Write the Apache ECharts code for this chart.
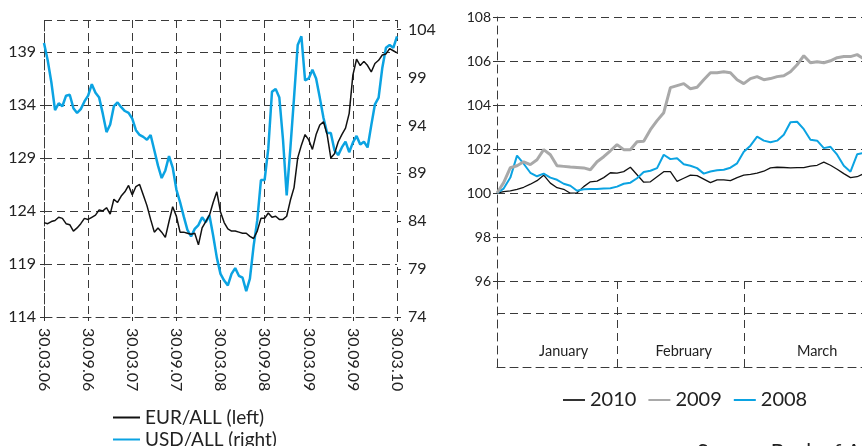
<!DOCTYPE html>
<html>
<head>
<meta charset="utf-8">
<script src="https://cdn.jsdelivr.net/npm/echarts@6/dist/echarts.min.js"></script>
<style>
  html, body { margin: 0; padding: 0; background: #fff; }
  #chart { width: 862px; height: 446px; }
</style>
</head>
<body>
<div id="chart"></div>
<script>
// ---- Left panel: exchange rates, half-monthly readings 30.03.06 – 30.03.10 ----
const rateTickLabels = ['30.03.06', '30.09.06', '30.03.07', '30.09.07', '30.03.08',
  '30.09.08', '30.03.09', '30.09.09', '30.03.10'];

const eurAll = [
  122.9, 122.8, 123.0, 123.1, 123.4, 123.3, 122.8, 122.7, 122.1, 122.4,
  122.8, 123.3, 123.2, 123.4, 123.6, 124.1, 124.0, 124.3, 123.7, 125.1,
  124.8, 125.4, 125.8, 126.4, 125.5, 126.3, 126.5, 125.5, 124.5, 123.2,
  122.0, 122.4, 122.0, 121.5, 123.0, 124.4, 123.5, 122.0, 122.0, 121.9,
  121.8, 121.9, 120.8, 122.4, 123.0, 123.6, 124.8, 125.8, 123.9, 122.9,
  122.3, 122.1, 122.1, 122.0, 121.9, 121.9, 121.6, 121.4, 122.1, 123.3,
  123.3, 123.8, 123.4, 123.5, 123.2, 123.2, 123.5, 125.0, 126.2, 129.0,
  130.2, 131.2, 130.7, 129.8, 131.2, 132.1, 132.4, 131.2, 129.0, 129.4,
  130.5, 131.2, 131.8, 133.2, 136.8, 138.3, 137.7, 138.1, 137.7, 137.1,
  137.9, 138.2, 138.7, 138.8, 139.3, 139.1, 138.9
];

const usdAll = [
  102.6, 100.8, 98.5, 95.6, 96.3, 96.0, 97.1, 97.2, 95.8, 95.3,
  95.7, 96.5, 97.1, 98.3, 97.4, 96.9, 95.2, 93.3, 94.1, 96.0,
  96.4, 95.9, 95.5, 95.3, 94.7, 93.5, 93.0, 92.8, 92.5, 93.0,
  91.4, 89.8, 88.5, 89.3, 90.8, 89.6, 87.3, 86.0, 84.5, 83.1,
  82.4, 83.2, 83.6, 84.4, 83.9, 84.6, 82.5, 80.2, 78.5, 77.8,
  77.3, 78.5, 79.1, 78.3, 78.1, 76.7, 78.0, 81.4, 84.1, 88.3,
  88.3, 91.6, 97.5, 97.8, 96.9, 92.5, 86.7, 91.6, 96.9, 102.4,
  103.3, 98.7, 98.9, 99.8, 98.9, 96.9, 94.8, 93.2, 93.2, 91.4,
  90.9, 91.7, 92.3, 91.2, 92.2, 92.9, 92.0, 92.3, 91.7, 94.0,
  96.2, 96.9, 100.0, 102.1, 102.4, 102.1, 103.3
];

// ---- Right panel: EUR/ALL index (first trading day of the year = 100), January – March ----
const months = ['January', 'February', 'March'];
const monthStartDay = [0, 18, 37, 59];
const monthLabelDay = [10, 28, 48];

const idx2010 = [
  100.00, 100.06, 100.10, 100.17, 100.26, 100.40, 100.56, 100.81, 100.45, 100.24,
  100.17, 99.99, 100.01, 100.29, 100.51, 100.54, 100.70, 100.92, 100.90, 100.97,
  101.17, 100.83, 100.49, 100.51, 100.74, 100.97, 100.97, 100.53, 100.67, 100.81,
  100.79, 100.63, 100.47, 100.60, 100.60, 100.56, 100.70, 100.81, 100.85, 100.90,
  100.99, 101.14, 101.17, 101.16, 101.14, 101.15, 101.15, 101.22, 101.26, 101.40,
  101.26, 101.08, 100.88, 100.70, 100.74, 100.88
];
const idx2009 = [
  100.00, 100.47, 101.15, 101.24, 101.42, 101.29, 101.51, 101.97, 101.74, 101.24,
  101.21, 101.18, 101.16, 101.14, 101.06, 101.42, 101.65, 101.92, 102.20, 101.97,
  101.97, 102.33, 102.35, 102.88, 103.29, 103.65, 104.79, 104.88, 104.97, 104.74,
  104.81, 105.15, 105.47, 105.47, 105.51, 105.47, 105.15, 104.97, 105.20, 105.29,
  105.15, 105.20, 105.29, 105.33, 105.51, 105.83, 106.24, 105.92, 105.97, 105.92,
  106.01, 106.15, 106.20, 106.20, 106.29, 106.10
];
const idx2008 = [
  100.00, 100.20, 100.70, 101.70, 101.33, 100.92, 100.76, 100.88, 100.70, 100.60,
  100.42, 100.33, 100.10, 100.17, 100.18, 100.18, 100.20, 100.22, 100.29, 100.42,
  100.47, 100.67, 100.95, 101.01, 101.13, 101.74, 101.54, 101.58, 101.31, 101.24,
  101.13, 100.88, 100.98, 101.03, 101.06, 101.15, 101.35, 101.88, 102.15, 102.56,
  102.38, 102.31, 102.38, 102.65, 103.22, 103.24, 102.90, 102.42, 102.38, 102.04,
  102.10, 101.74, 101.24, 100.97, 101.76, 101.83
];

// ---- styling ----
const FONT = 'Lato';
const INK = '#222';
const GRID_LINE = { color: '#3a3a3a', width: 1, type: [8, 5] };
const BLUE = '#0ba3e2';
const GREY = '#a9a9a9';
const BLACK = '#111';

const RATE_STEP_MONTHS = 0.5;   // left panel sampling (months)
const DAY_STEP = 1;             // right panel sampling (trading days)
const pairs = (arr, step) => arr.map((v, i) => [i * step, v]);

const chart = echarts.init(document.getElementById('chart'), null, { renderer: 'canvas' });

chart.setOption({
  animation: false,
  backgroundColor: '#fff',
  textStyle: { fontFamily: FONT, color: INK },
  title: {
    text: 'Source: Bank of Albania',
    left: 697, top: 442, padding: 0,
    textStyle: { fontFamily: FONT, fontSize: 21, fontWeight: 'normal', color: INK }
  },
  legend: [
    {
      orient: 'vertical',
      left: 113, top: 408, height: 80, padding: 0,
      itemWidth: 27, itemHeight: 2, itemGap: 3,
      icon: 'rect',
      textStyle: { fontSize: 19, color: INK, lineHeight: 18 },
      data: ['EUR/ALL (left)', 'USD/ALL (right)']
    },
    {
      orient: 'horizontal',
      left: 563, top: 390, padding: 0,
      itemWidth: 22, itemHeight: 2, itemGap: 12,
      icon: 'rect',
      textStyle: { fontSize: 20, color: INK },
      data: ['2010', '2009', '2008']
    }
  ],
  grid: [
    { left: 44, top: 20, width: 353, height: 297, outerBoundsMode: 'none' },
    { left: 497, top: 17, width: 393.5, height: 264, outerBoundsMode: 'none' },
    { left: 497, top: 281, width: 393.5, height: 86, outerBoundsMode: 'none' }
  ],
  xAxis: [
    {
      gridIndex: 0, type: 'value', min: 0, max: 48, interval: 6,
      axisLine: { show: true, lineStyle: GRID_LINE },
      axisTick: { show: true, length: 4, lineStyle: { color: '#333' } },
      splitLine: { show: true, lineStyle: GRID_LINE },
      axisLabel: {
        rotate: -90, margin: 11, fontSize: 16, color: INK, fontFamily: FONT,
        formatter: v => rateTickLabels[Math.round(v / 6)]
      }
    },
    {
      gridIndex: 1, type: 'value', min: 0, max: 59, show: false
    },
    {
      gridIndex: 2, type: 'category', boundaryGap: false,
      data: Array.from({ length: 60 }, (_, i) => String(i)),
      axisLine: { show: true, lineStyle: GRID_LINE },
      axisTick: { show: false },
      splitLine: { show: true, lineStyle: GRID_LINE, interval: i => monthStartDay.includes(i) },
      axisLabel: {
        inside: true, margin: 8, fontSize: 14.5, color: INK, fontFamily: FONT,
        interval: i => monthLabelDay.includes(i),
        formatter: (v, i) => months[monthLabelDay.indexOf(i)]
      }
    }
  ],
  yAxis: [
    {
      gridIndex: 0, type: 'value', min: 114, max: 142, interval: 5,
      axisLine: { show: true, lineStyle: GRID_LINE },
      axisTick: { show: true, length: 4, lineStyle: { color: '#333' } },
      splitLine: { show: true, lineStyle: GRID_LINE },
      axisLabel: { margin: 8, fontSize: 16, color: INK, fontFamily: FONT, showMaxLabel: false }
    },
    {
      gridIndex: 0, type: 'value', position: 'right', min: 74, max: 105, interval: 5,
      axisLine: { show: false },
      axisTick: { show: true, length: 4, lineStyle: { color: '#333' } },
      splitLine: { show: false },
      axisLabel: { margin: 11, fontSize: 16, color: INK, fontFamily: FONT, showMaxLabel: false }
    },
    {
      gridIndex: 1, type: 'value', min: 96, max: 108, interval: 2,
      axisLine: { show: true, lineStyle: GRID_LINE },
      axisTick: { show: true, length: 4, lineStyle: { color: '#333' } },
      splitLine: { show: true, lineStyle: GRID_LINE },
      axisLabel: { margin: 6, fontSize: 14, color: INK, fontFamily: FONT }
    },
    {
      gridIndex: 2, type: 'value', min: 0, max: 86, interval: 54,
      axisLine: { show: true, lineStyle: GRID_LINE },
      axisTick: { show: false },
      axisLabel: { show: false },
      splitLine: { show: true, lineStyle: GRID_LINE }
    }
  ],
  series: [
    {
      name: 'USD/ALL (right)', type: 'line', xAxisIndex: 0, yAxisIndex: 1,
      data: pairs(usdAll, RATE_STEP_MONTHS), showSymbol: false,
      lineStyle: { color: BLUE, width: 2.5 }, itemStyle: { color: BLUE }
    },
    {
      name: 'EUR/ALL (left)', type: 'line', xAxisIndex: 0, yAxisIndex: 0,
      data: pairs(eurAll, RATE_STEP_MONTHS), showSymbol: false,
      lineStyle: { color: BLACK, width: 1.5 }, itemStyle: { color: BLACK }
    },
    {
      name: '2010', type: 'line', xAxisIndex: 1, yAxisIndex: 2,
      data: pairs(idx2010, DAY_STEP), showSymbol: false,
      lineStyle: { color: BLACK, width: 1.3 }, itemStyle: { color: '#333' }
    },
    {
      name: '2008', type: 'line', xAxisIndex: 1, yAxisIndex: 2,
      data: pairs(idx2008, DAY_STEP), showSymbol: false,
      lineStyle: { color: BLUE, width: 2 }, itemStyle: { color: BLUE }
    },
    {
      name: '2009', type: 'line', xAxisIndex: 1, yAxisIndex: 2,
      data: pairs(idx2009, DAY_STEP), showSymbol: false,
      lineStyle: { color: GREY, width: 3 }, itemStyle: { color: GREY }
    }
  ]
});
</script>
</body>
</html>
